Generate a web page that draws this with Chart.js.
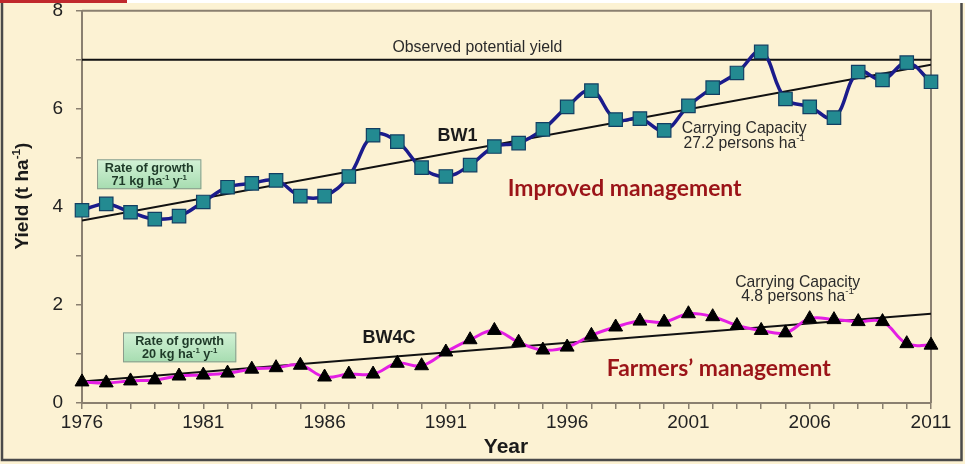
<!DOCTYPE html>
<html>
<head>
<meta charset="utf-8">
<script src="https://cdn.jsdelivr.net/npm/chart.js@4/dist/chart.umd.min.js"></script>
<style>
  html, body { margin: 0; padding: 0; background: #ffffff; }
  #wrap { width: 965px; height: 464px; }
</style>
</head>
<body>
<div id="wrap"><canvas id="c" width="965" height="464"></canvas></div>
<script>
// ---- data ----
const years = [1976,1977,1978,1979,1980,1981,1982,1983,1984,1985,1986,1987,1988,1989,1990,1991,1992,1993,
               1994,1995,1996,1997,1998,1999,2000,2001,2002,2003,2004,2005,2006,2007,2008,2009,2010,2011];
const bw1  = [3.93,4.06,3.89,3.75,3.81,4.10,4.40,4.48,4.54,4.22,4.22,4.62,5.46,5.33,4.80,4.62,4.85,5.23,
              5.30,5.58,6.04,6.37,5.78,5.80,5.56,6.06,6.43,6.73,7.16,6.20,6.04,5.82,6.75,6.59,6.94,6.55];
const bw4c = [0.43,0.41,0.45,0.47,0.55,0.57,0.61,0.69,0.72,0.77,0.53,0.59,0.59,0.81,0.76,1.04,1.29,1.48,
              1.24,1.08,1.14,1.38,1.55,1.67,1.65,1.82,1.76,1.58,1.48,1.43,1.72,1.70,1.66,1.66,1.21,1.18];
const lineYears     = [1976, 2011];
const potentialLine = [7.0, 7.0];
const trendBW1      = [3.72, 6.90];
const trendBW4C     = [0.44, 1.82];
const yTicks = [0, 2, 4, 6, 8];
const xLabelYears = [1976, 1981, 1986, 1991, 1996, 2001, 2006, 2011];

const pts = (xs, ys) => xs.map((x, i) => ({ x: x, y: ys[i] }));

const AXIS = '#8a8070';
const CREAM = '#fcf2d3';
const SANS = '"Liberation Sans", Arial, sans-serif';

function richWidth(ctx, parts, size, weight, family) {
  let w = 0;
  for (const [t, sup] of parts) {
    ctx.font = `${weight} ${sup ? size * 0.62 : size}px ${family}`;
    w += ctx.measureText(t).width;
  }
  return w;
}
function drawRich(ctx, parts, x, y, size, weight, family, color, align) {
  const w = richWidth(ctx, parts, size, weight, family);
  let cx = align === 'center' ? x - w / 2 : (align === 'right' ? x - w : x);
  ctx.fillStyle = color;
  ctx.textBaseline = 'middle';
  ctx.textAlign = 'left';
  for (const [t, sup] of parts) {
    ctx.font = `${weight} ${sup ? size * 0.62 : size}px ${family}`;
    ctx.fillText(t, cx, sup ? y - size * 0.32 : y);
    cx += ctx.measureText(t).width;
  }
}
function fitSize(ctx, parts, width, weight, family) {
  return 100 * width / richWidth(ctx, parts, 100, weight, family);
}

const decor = {
  id: 'decor',
  beforeDraw(chart) {
    const ctx = chart.ctx;
    ctx.save();
    ctx.fillStyle = '#ffffff';
    ctx.fillRect(0, 0, chart.width, chart.height);
    ctx.fillStyle = CREAM;
    ctx.fillRect(0, 3, chart.width, chart.height - 3);
    ctx.fillStyle = '#c0282c';
    ctx.fillRect(0, 0, 127, 3);
    ctx.restore();
  },
  beforeDatasetsDraw(chart) {
    const ctx = chart.ctx, a = chart.chartArea;
    ctx.save();
    ctx.strokeStyle = AXIS;
    ctx.lineWidth = 2;
    ctx.beginPath();
    ctx.moveTo(a.left, a.top);
    ctx.lineTo(a.right, a.top);
    ctx.lineTo(a.right, a.bottom);
    ctx.stroke();
    ctx.restore();
  },
  afterDraw(chart) {
    const ctx = chart.ctx;
    const xs = chart.scales.x, ys = chart.scales.y;
    const X = v => xs.getPixelForValue(v), Y = v => ys.getPixelForValue(v);
    ctx.save();

    // outer frame
    ctx.strokeStyle = '#4a4a4a';
    ctx.lineWidth = 2.5;
    ctx.beginPath();
    ctx.moveTo(2, 3);
    ctx.lineTo(2, 460);
    ctx.lineTo(961.5, 460);
    ctx.lineTo(961.5, 3);
    ctx.stroke();

    // axis titles
    ctx.save();
    ctx.translate(23, 196);
    ctx.rotate(-Math.PI / 2);
    const yt = [['Yield (t ha', 0], ['-1', 1], [')', 0]];
    drawRich(ctx, yt, 0, 0, 19, 'bold', SANS, '#1a1a1a', 'center');
    ctx.restore();
    drawRich(ctx, [['Year', 0]], 506, 447, 21, 'bold', SANS, '#1a1a1a', 'center');

    const grey = '#2a2a2a';
    // potential yield label
    const pl = [['Observed potential yield', 0]];
    drawRich(ctx, pl, X(1992.3), Y(7.24), fitSize(ctx, pl, 170, 'normal', SANS), 'normal', SANS, grey, 'center');

    // series labels
    drawRich(ctx, [['BW1', 0]], X(1991.48), Y(5.44), 18, 'bold', SANS, '#1a1a1a', 'center');
    drawRich(ctx, [['BW4C', 0]], X(1988.66), Y(1.32), 18, 'bold', SANS, '#1a1a1a', 'center');

    // management labels
    const red = '#9b1418';
    const im = [['Improved management', 0]];
    drawRich(ctx, im, X(1998.37), Y(4.38), fitSize(ctx, im, 234, 'bold', 'Lato'), 'bold', 'Lato', red, 'center');
    const fm = [['Farmers\u2019 management', 0]];
    drawRich(ctx, fm, X(2002.25), Y(0.71), fitSize(ctx, fm, 224, 'bold', 'Lato'), 'bold', 'Lato', red, 'center');

    // carrying capacity labels
    const cc = [['Carrying Capacity', 0]];
    const ccs = fitSize(ctx, cc, 125, 'normal', SANS);
    drawRich(ctx, cc, X(2003.3), Y(5.60), ccs, 'normal', SANS, grey, 'center');
    drawRich(ctx, [['27.2 persons ha', 0], ['-1', 1]], X(2003.3), Y(5.29), ccs, 'normal', SANS, grey, 'center');
    drawRich(ctx, cc, X(2005.5), Y(2.45), ccs, 'normal', SANS, grey, 'center');
    drawRich(ctx, [['4.8 persons ha', 0], ['-1', 1]], X(2005.5), Y(2.17), ccs, 'normal', SANS, grey, 'center');

    // rate-of-growth boxes
    function box(x0, x1, yTop, yBot, l2) {
      const L = X(x0), R = X(x1), T = Y(yTop), B = Y(yBot);
      const g = ctx.createLinearGradient(0, T, 0, B);
      g.addColorStop(0, '#d3f2d6');
      g.addColorStop(1, '#a6dcb0');
      ctx.fillStyle = g;
      ctx.fillRect(L, T, R - L, B - T);
      ctx.strokeStyle = '#8c9c8c';
      ctx.lineWidth = 1;
      ctx.strokeRect(L + 0.5, T + 0.5, R - L - 1, B - T - 1);
      const cx = (L + R) / 2, h = B - T;
      const l1 = [['Rate of growth', 0]];
      const fs = fitSize(ctx, l1, 89, 'bold', SANS);
      drawRich(ctx, l1, cx, T + h * 0.3, fs, 'bold', SANS, '#1e3a28', 'center');
      drawRich(ctx, l2, cx, T + h * 0.74, fs, 'bold', SANS, '#1e3a28', 'center');
    }
    box(1976.62, 1980.92, 4.97, 4.36, [['71 kg ha', 0], ['-1', 1], [' y', 0], ['-1', 1]]);
    box(1977.69, 1982.36, 1.44, 0.83, [['20 kg ha', 0], ['-1', 1], [' y', 0], ['-1', 1]]);

    ctx.restore();
  }
};

new Chart(document.getElementById('c'), {
  type: 'line',
  data: {
    datasets: [
      {
        label: 'BW1',
        data: pts(years, bw1),
        clip: false,
        borderColor: '#1b1b8c',
        borderWidth: 3.5,
        tension: 0.4,
        pointStyle: 'rect',
        pointRadius: 9.5,
        pointBackgroundColor: '#238a91',
        pointBorderColor: '#123f63',
        pointBorderWidth: 1.2
      },
      {
        label: 'BW4C',
        data: pts(years, bw4c),
        clip: false,
        borderColor: '#e41ee4',
        borderWidth: 3,
        tension: 0.4,
        pointStyle: 'triangle',
        pointRadius: 8,
        pointBackgroundColor: '#000000',
        pointBorderColor: '#000000',
        pointBorderWidth: 1
      },
      {
        label: 'Observed potential yield',
        data: pts(lineYears, potentialLine),
        borderColor: '#111111',
        borderWidth: 2,
        pointRadius: 0
      },
      {
        label: 'Trend BW1',
        data: pts(lineYears, trendBW1),
        borderColor: '#111111',
        borderWidth: 2,
        pointRadius: 0
      },
      {
        label: 'Trend BW4C',
        data: pts(lineYears, trendBW4C),
        borderColor: '#111111',
        borderWidth: 2,
        pointRadius: 0
      }
    ]
  },
  options: {
    responsive: false,
    devicePixelRatio: 1,
    animation: false,
    layout: { padding: { left: 0, top: 0, right: 34, bottom: 0 } },
    plugins: { legend: { display: false }, tooltip: { enabled: false } },
    scales: {
      x: {
        type: 'linear',
        min: years[0],
        max: years[years.length - 1],
        afterFit: s => { s.height = 61; s.paddingLeft = 0; s.paddingRight = 0; },
        ticks: {
          stepSize: 1,
          autoSkip: false,
          maxRotation: 0,
          padding: 2,
          color: '#222222',
          font: { size: 19, family: SANS, lineHeight: 1.2 },
          callback: v => xLabelYears.includes(v) ? String(v) : ''
        },
        grid: { drawOnChartArea: false, drawTicks: true, tickLength: 6, color: AXIS, lineWidth: 1.5 },
        border: { display: true, color: AXIS, width: 2 }
      },
      y: {
        min: 0,
        max: 8,
        afterFit: s => { s.width = 82; s.paddingTop = 9; s.paddingBottom = 0; },
        ticks: {
          stepSize: 1,
          padding: 13,
          color: '#222222',
          font: { size: 19, family: SANS, lineHeight: 1.0 },
          callback: v => yTicks.includes(v) ? String(v) : ''
        },
        grid: { drawOnChartArea: false, drawTicks: true, tickLength: 6, color: AXIS, lineWidth: 1.5 },
        border: { display: true, color: AXIS, width: 2 }
      }
    }
  },
  plugins: [decor]
});
</script>
</body>
</html>
